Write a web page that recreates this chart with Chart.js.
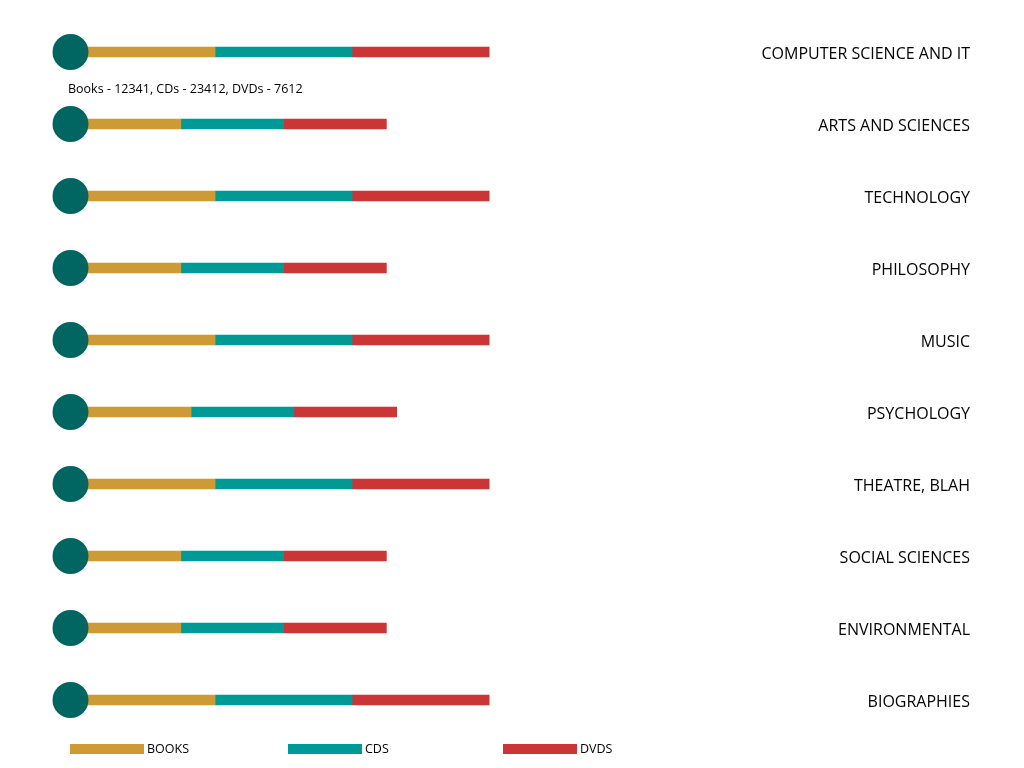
<!DOCTYPE html>
<html>
<head>
<meta charset="utf-8">
<script src="https://cdn.jsdelivr.net/npm/chart.js@4"></script>
<style>
  html, body { margin: 0; padding: 0; background: #ffffff; }
  #wrap { position: relative; width: 1024px; height: 768px; }
</style>
</head>
<body>
<div id="wrap"><canvas id="c"></canvas></div>
<script>
const categories = ['COMPUTER SCIENCE AND IT', 'ARTS AND SCIENCES', 'TECHNOLOGY', 'PHILOSOPHY', 'MUSIC', 'PSYCHOLOGY', 'THEATRE, BLAH', 'SOCIAL SCIENCES', 'ENVIRONMENTAL', 'BIOGRAPHIES'];
const books = [40, 30, 40, 30, 40, 33, 40, 30, 30, 40];
const cds   = [40, 30, 40, 30, 40, 30, 40, 30, 30, 40];
const dvds  = [40, 30, 40, 30, 40, 30, 40, 30, 30, 40];
const seriesLabels = ['BOOKS', 'CDS', 'DVDS'];
const seriesColors = ['#CE9A36', '#009A96', '#CC3535'];
const annotationText = 'Books - 12341, CDs - 23412, DVDs - 7612';
const annotationRow = 0;

const FONT = '"Open Sans", "Liberation Sans", sans-serif';

const decorPlugin = {
  id: 'decor',
  afterDatasetsDraw(chart) {
    const ctx = chart.ctx;
    const xs = chart.scales.x, ys = chart.scales.y;
    const x0 = xs.getPixelForValue(0);
    ctx.save();
    // start circles
    ctx.fillStyle = '#016662';
    categories.forEach((c, i) => {
      const y = ys.getPixelForValue(i);
      ctx.beginPath();
      ctx.arc(x0 - 7.5, y, 18, 0, Math.PI * 2);
      ctx.fill();
    });
    // category labels on the right
    ctx.fillStyle = '#000000';
    ctx.font = '16px ' + FONT;
    ctx.textAlign = 'right';
    ctx.textBaseline = 'middle';
    categories.forEach((c, i) => {
      ctx.fillText(c, 970, ys.getPixelForValue(i) + 2);
    });
    // annotation
    ctx.font = '12.5px ' + FONT;
    ctx.textAlign = 'left';
    ctx.fillText(annotationText, 68, ys.getPixelForValue(annotationRow) + 37);
    // legend
    const lx = [70, 288, 503];
    ctx.font = '12.5px ' + FONT;
    seriesLabels.forEach((lab, i) => {
      ctx.fillStyle = seriesColors[i];
      ctx.fillRect(lx[i], 744, 74, 10);
      ctx.fillStyle = '#000000';
      ctx.fillText(lab, lx[i] + 77, 749);
    });
    ctx.restore();
  }
};

new Chart(document.getElementById('c'), {
  type: 'bar',
  data: {
    labels: categories,
    datasets: [
      { label: seriesLabels[0], data: books, backgroundColor: seriesColors[0] },
      { label: seriesLabels[1], data: cds, backgroundColor: seriesColors[1] },
      { label: seriesLabels[2], data: dvds, backgroundColor: seriesColors[2] }
    ]
  },
  options: {
    indexAxis: 'y',
    responsive: true,
    maintainAspectRatio: false,
    animation: false,
    layout: { padding: { left: 78, right: 432, top: 16, bottom: 32 } },
    datasets: { bar: { barThickness: 10, borderWidth: 0, borderSkipped: false } },
    scales: {
      x: { stacked: true, min: 0, max: 150, display: false, grid: { display: false } },
      y: { stacked: true, display: false, grid: { display: false } }
    },
    plugins: { legend: { display: false }, tooltip: { enabled: false } }
  },
  plugins: [decorPlugin]
});
</script>
</body>
</html>
